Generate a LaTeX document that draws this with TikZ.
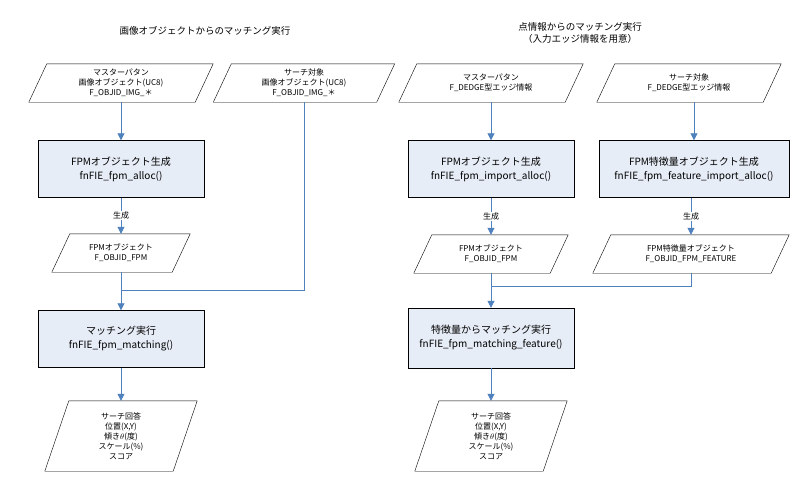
\documentclass[tikz,border=0pt]{standalone}
\usepackage{fontspec}
\setmainfont{Noto Sans CJK JP}
\usetikzlibrary{arrows.meta}
\definecolor{ln}{HTML}{4F81BD}
\definecolor{bx}{HTML}{E7EDF7}
\newcommand\pgram[2]{\draw[thin] ([xshift=-#2pt]#1.south west) -- ([xshift=#2pt]#1.north west) -- ([xshift=#2pt]#1.north east) -- ([xshift=-#2pt]#1.south east) -- cycle;}
\begin{document}
\begin{tikzpicture}[x=1pt,y=-1pt,
  io/.style={minimum height=38pt,minimum width=166pt,align=center,font=\fontsize{8}{10}\selectfont,inner sep=0pt},
  proc/.style={draw,thin,fill=bx,minimum width=166pt,minimum height=57pt,align=center,font=\fontsize{10}{14}\selectfont},
  ar/.style={ln,thick,-{Triangle[width=7pt,length=7pt]}},
  cn/.style={ln,thick},
  lb/.style={fill=white,text=black,font=\fontsize{8}{9}\selectfont,inner sep=1pt}]
\useasboundingbox (0,0) rectangle (807,499);
\node[font=\fontsize{9.5}{12}\selectfont] (t1) at (205,31) {画像オブジェクトからのマッチング実行};
\node[font=\fontsize{9.5}{12}\selectfont,align=center] (t2) at (580,33) {点情報からのマッチング実行\\（入力エッジ情報を用意）};
% left
\node[io] (m1) at (121,83) {マスターパタン\\画像オブジェクト(UC8)\\F\_OBJID\_IMG\_＊};\pgram{m1}{9}
\node[io,minimum width=163pt] (s1) at (304,83) {サーチ対象\\画像オブジェクト(UC8)\\F\_OBJID\_IMG\_＊};\pgram{s1}{9}
\node[proc] (b1) at (121,169) {FPMオブジェクト生成\\fnFIE\_fpm\_alloc()};
\node[io,minimum width=120pt] (o1) at (121,253) {FPMオブジェクト\\F\_OBJID\_FPM};\pgram{o1}{9}
\node[proc] (b2) at (121,339) {マッチング実行\\fnFIE\_fpm\_matching()};
\node[io,minimum width=128pt,minimum height=70pt] (r1) at (121,436) {サーチ回答\\位置(X,Y)\\傾き$\theta$(度)\\スケール(\%)\\スコア};\pgram{r1}{12}
\coordinate (j1) at (121,290);
\draw[ar] (m1) -- (b1);
\draw[ar] (b1) -- node[lb]{生成} (o1);
\draw[cn] (s1.south) |- (j1);
\draw[ar] (o1) -- (b2);
\draw[ar] (b2) -- (r1);
% right
\node[io] (m2) at (491,83) {マスターパタン\\F\_DEDGE型エッジ情報};\pgram{m2}{9}
\node[io] (s2) at (689,83) {サーチ対象\\F\_DEDGE型エッジ情報};\pgram{s2}{9}
\node[proc] (b3) at (491,169) {FPMオブジェクト生成\\fnFIE\_fpm\_import\_alloc()};
\node[proc,minimum width=190pt] (b4) at (694,169) {FPM特徴量オブジェクト生成\\fnFIE\_fpm\_feature\_import\_alloc()};
\node[io,minimum width=136pt] (o2) at (491,254) {FPMオブジェクト\\F\_OBJID\_FPM};\pgram{o2}{9}
\node[io,minimum width=178pt] (o3) at (691,254) {FPM特徴量オブジェクト\\F\_OBJID\_FPM\_FEATURE};\pgram{o3}{9}
\node[proc,minimum height=60pt] (b5) at (491,338) {特徴量からマッチング実行\\fnFIE\_fpm\_matching\_feature()};
\node[io,minimum width=128pt,minimum height=70pt] (r2) at (491,436) {サーチ回答\\位置(X,Y)\\傾き$\theta$(度)\\スケール(\%)\\スコア};\pgram{r2}{12}
\coordinate (j2) at (491,286);
\draw[ar] (m2) -- (b3);
\draw[ar] (s2.south -| b4) -- (b4);
\draw[ar] (b3) -- node[lb]{生成} (o2);
\draw[ar] (b4.south -| o3) -- node[lb]{生成} (o3);
\draw[cn] (o3.south) |- (j2);
\draw[ar] (o2) -- (b5);
\draw[ar] (b5) -- (r2);
\end{tikzpicture}
\end{document}
